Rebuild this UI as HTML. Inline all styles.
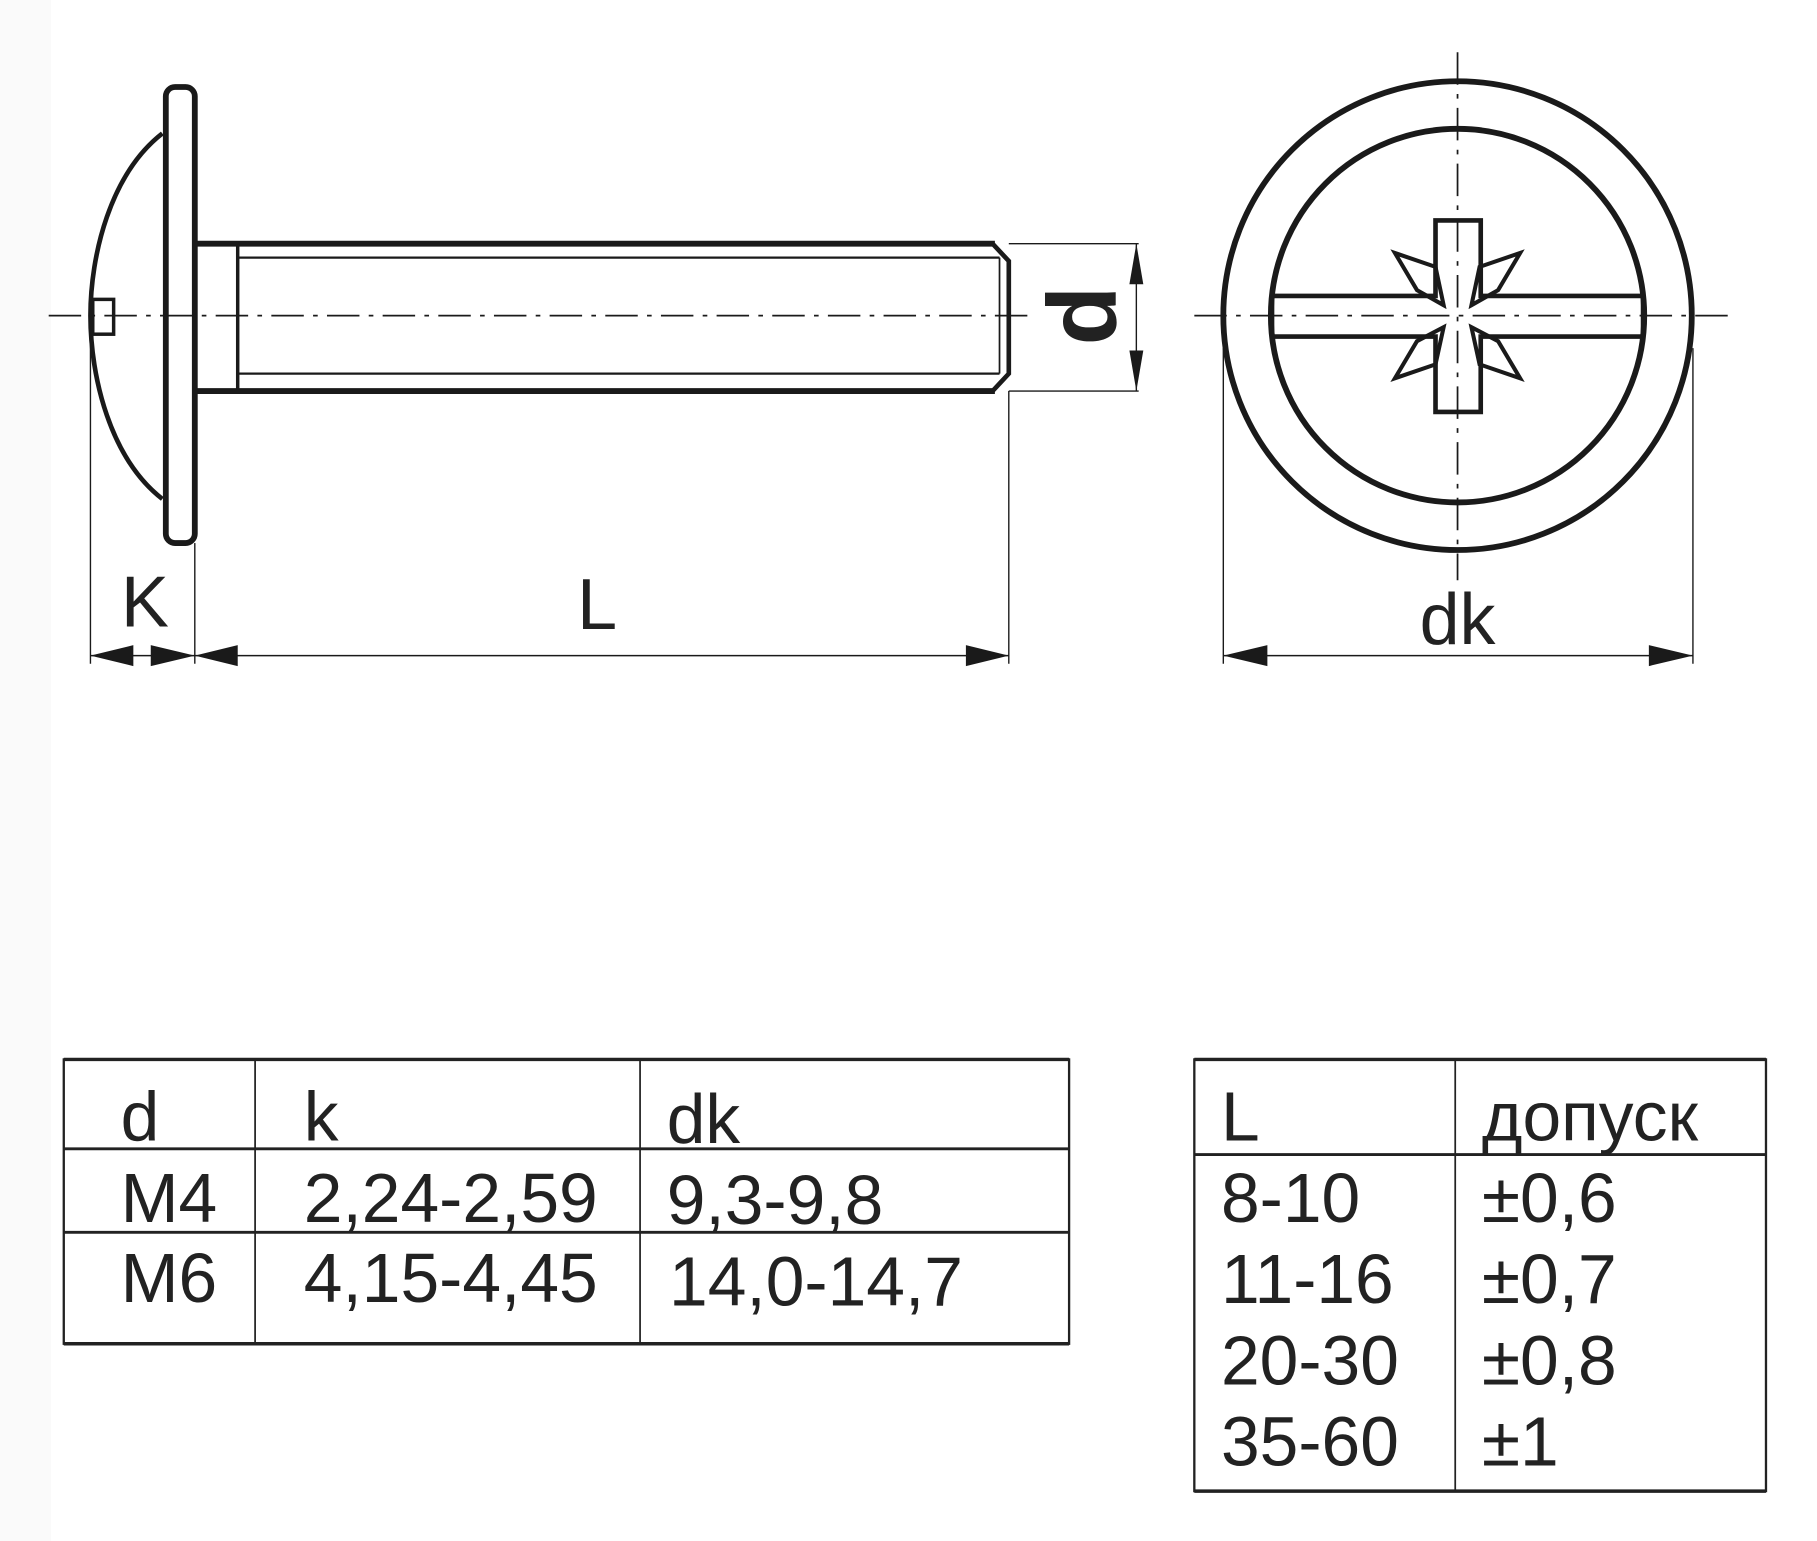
<!DOCTYPE html>
<html><head><meta charset="utf-8"><style>
html,body{margin:0;padding:0;background:#fff;}
svg{display:block;}
text{font-family:"Liberation Sans","DejaVu Sans",sans-serif;fill:#222;}
</style></head><body>
<svg width="1817" height="1541" viewBox="0 0 1567 1328" preserveAspectRatio="none" xmlns="http://www.w3.org/2000/svg">
<rect x="0" y="0" width="1567" height="1328" fill="#fff"/>
<rect x="0" y="0" width="44" height="1328" fill="#fafafa"/>
<g stroke="#1a1a1a" fill="none">
<line x1="42" y1="272" x2="890" y2="272" stroke-width="1.5" stroke-dasharray="28,8,4,8"/>
<line x1="1030" y1="272" x2="1490" y2="272" stroke-width="1.5" stroke-dasharray="28,8,4,8"/>
<line x1="1257" y1="45" x2="1257" y2="500" stroke-width="1.5" stroke-dasharray="28,8,4,8"/>
<path d="M140 115 C95 150 78 220 78 272 C78 325 95 395 140 430" stroke-width="4"/>
<rect x="143" y="75" width="25" height="393" rx="8" stroke-width="5"/>
<rect x="80" y="258" width="18" height="30" stroke-width="3"/>
<line x1="168" y1="210" x2="858" y2="210" stroke-width="5"/>
<line x1="168" y1="337" x2="858" y2="337" stroke-width="5"/>
<line x1="205" y1="222" x2="862" y2="222" stroke-width="2"/>
<line x1="205" y1="322" x2="862" y2="322" stroke-width="2"/>
<line x1="205" y1="210" x2="205" y2="337" stroke-width="3"/>
<path d="M856 210 L870 225 L870 322 L856 337" stroke-width="4"/>
<line x1="862" y1="222" x2="862" y2="322" stroke-width="1.5"/>
<line x1="870" y1="210" x2="982" y2="210" stroke-width="1.2"/>
<line x1="870" y1="337" x2="982" y2="337" stroke-width="1.2"/>
<line x1="980" y1="210" x2="980" y2="337" stroke-width="1.2"/>
<line x1="78" y1="290" x2="78" y2="572" stroke-width="1.2"/>
<line x1="168" y1="468" x2="168" y2="572" stroke-width="1.2"/>
<line x1="870" y1="337" x2="870" y2="572" stroke-width="1.2"/>
<line x1="78" y1="565" x2="870" y2="565" stroke-width="1.2"/>
<circle cx="1257" cy="272" r="202" stroke-width="5"/>
<circle cx="1257" cy="272" r="161" stroke-width="5"/>
<path d="M1238 190 L1277 190 L1277 255 L1417 255 L1417 290 L1277 290 L1277 355 L1238 355 L1238 290 L1097 290 L1097 255 L1238 255 Z" stroke-width="4"/>
<path d="M1245 263 L1222 250 L1203 218 L1238 230 Z" stroke-width="3.5"/>
<path d="M1269 263 L1292 250 L1311 218 L1276 230 Z" stroke-width="3.5"/>
<path d="M1245 282 L1222 294 L1203 326 L1238 314 Z" stroke-width="3.5"/>
<path d="M1269 282 L1292 294 L1311 326 L1276 314 Z" stroke-width="3.5"/>
<line x1="1055" y1="300" x2="1055" y2="572" stroke-width="1.2"/>
<line x1="1460" y1="300" x2="1460" y2="572" stroke-width="1.2"/>
<line x1="1055" y1="565" x2="1460" y2="565" stroke-width="1.2"/>
</g>
<g fill="#1a1a1a">
<polygon points="980,210 974,245 986,245"/>
<polygon points="980,337 974,302 986,302"/>
<polygon points="78,565 115,556 115,574"/>
<polygon points="168,565 130,556 130,574"/>
<polygon points="168,565 205,556 205,574"/>
<polygon points="870,565 833,556 833,574"/>
<polygon points="1055,565 1093,556 1093,574"/>
<polygon points="1460,565 1422,556 1422,574"/>
</g>
<text x="125" y="540" font-size="62" text-anchor="middle">K</text>
<text x="515" y="542" font-size="62" text-anchor="middle">L</text>
<text x="1257" y="555" font-size="62" text-anchor="middle">dk</text>
<text transform="translate(962,272) rotate(-90)" font-size="84" font-weight="bold" text-anchor="middle">d</text>
<g stroke="#222" fill="none">
<rect x="55" y="913" width="867" height="245" stroke-width="2"/>
<line x1="55" y1="913" x2="922" y2="913" stroke-width="3"/>
<line x1="55" y1="1158" x2="922" y2="1158" stroke-width="3"/>
<line x1="220" y1="913" x2="220" y2="1158" stroke-width="1.5"/>
<line x1="552" y1="913" x2="552" y2="1158" stroke-width="1.5"/>
<line x1="55" y1="990" x2="922" y2="990" stroke-width="2.5"/>
<line x1="55" y1="1062" x2="922" y2="1062" stroke-width="2.5"/>
<rect x="1030" y="913" width="493" height="372" stroke-width="2"/>
<line x1="1030" y1="913" x2="1523" y2="913" stroke-width="3"/>
<line x1="1030" y1="1285" x2="1523" y2="1285" stroke-width="3"/>
<line x1="1255" y1="913" x2="1255" y2="1285" stroke-width="1.5"/>
<line x1="1030" y1="995" x2="1523" y2="995" stroke-width="2.5"/>
</g>
<g font-size="60">
<text x="104" y="983">d</text>
<text x="262" y="983">k</text>
<text x="575" y="985">dk</text>
<text x="104" y="1053">M4</text>
<text x="262" y="1053">2,24-2,59</text>
<text x="575" y="1055">9,3-9,8</text>
<text x="104" y="1122">M6</text>
<text x="262" y="1122">4,15-4,45</text>
<text x="577" y="1125">14,0-14,7</text>
<text x="1053" y="983">L</text>
<text x="1278" y="983">допуск</text>
<text x="1053" y="1053">8-10</text>
<text x="1278" y="1053">±0,6</text>
<text x="1053" y="1123">11-16</text>
<text x="1278" y="1123">±0,7</text>
<text x="1053" y="1193">20-30</text>
<text x="1278" y="1193">±0,8</text>
<text x="1053" y="1263">35-60</text>
<text x="1278" y="1263">±1</text>
</g>
</svg>
</body></html>
